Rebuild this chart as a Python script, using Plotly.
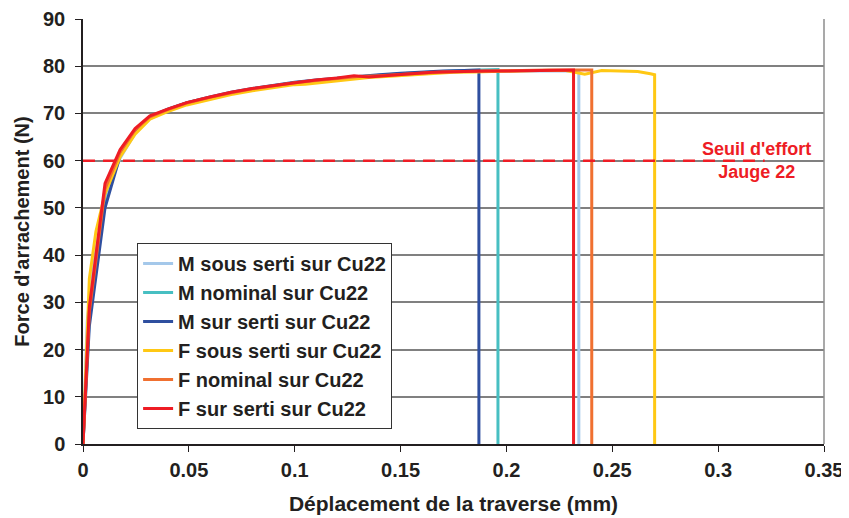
import plotly.graph_objects as go

# ---- data ----
names = ["M sous serti sur Cu22", "M nominal sur Cu22", "M sur serti sur Cu22",
         "F sous serti sur Cu22", "F nominal sur Cu22", "F sur serti sur Cu22"]
colors = ["#a4c8ea", "#47bfc2", "#2f4f9f", "#ffc814", "#f07030", "#ee1c24"]

m_sous_x = [0, 0.002, 0.005, 0.0104, 0.0175, 0.0246, 0.0316, 0.04, 0.049, 0.06, 0.07, 0.08, 0.09, 0.1, 0.11, 0.12, 0.13, 0.14, 0.15, 0.16, 0.17, 0.18, 0.19, 0.2, 0.21, 0.22, 0.2342, 0.2342]
m_sous_y = [0, 26, 38, 52, 60.5, 65.8, 68.9, 70.6, 72.0, 73.3, 74.3, 75.1, 75.8, 76.4, 76.9, 77.3, 77.7, 78.0, 78.2, 78.5, 78.7, 78.9, 79.0, 79.0, 79.0, 79.0, 79.0, 0]

m_nom_x = [0, 0.003, 0.0104, 0.0175, 0.0246, 0.0316, 0.04, 0.049, 0.06, 0.07, 0.08, 0.09, 0.1, 0.11, 0.12, 0.13, 0.14, 0.15, 0.16, 0.17, 0.18, 0.19, 0.196, 0.196]
m_nom_y = [0, 27, 53, 61.5, 66.2, 69.2, 70.8, 72.2, 73.4, 74.4, 75.2, 75.9, 76.5, 77.0, 77.4, 77.8, 78.1, 78.4, 78.7, 78.9, 79.1, 79.2, 79.3, 0]

m_sur_x = [0, 0.003, 0.0104, 0.0175, 0.0246, 0.0316, 0.04, 0.049, 0.06, 0.07, 0.08, 0.09, 0.1, 0.11, 0.12, 0.13, 0.14, 0.15, 0.16, 0.17, 0.18, 0.187, 0.187]
m_sur_y = [0, 25, 50, 61.0, 66.3, 69.3, 70.9, 72.3, 73.5, 74.5, 75.3, 76.0, 76.6, 77.1, 77.5, 77.9, 78.2, 78.5, 78.8, 79.0, 79.1, 79.2, 0]

f_sous_x = [0, 0.003, 0.0061, 0.0104, 0.0175, 0.0246, 0.0316, 0.04, 0.049, 0.06, 0.07, 0.08, 0.09, 0.1, 0.105, 0.115, 0.125, 0.135, 0.145, 0.155, 0.165, 0.175, 0.185, 0.2, 0.215, 0.228, 0.237, 0.245, 0.255, 0.262, 0.268, 0.27, 0.27]
f_sous_y = [0, 35, 45, 53, 60.8, 65.6, 68.8, 70.4, 71.8, 73.0, 74.0, 74.8, 75.5, 76.1, 76.2, 76.7, 77.2, 77.6, 77.9, 78.2, 78.5, 78.7, 78.8, 79.0, 79.1, 79.1, 78.3, 79.1, 79.0, 78.9, 78.4, 78.2, 0]

f_nom_x = [0, 0.003, 0.0104, 0.0175, 0.0246, 0.0316, 0.04, 0.049, 0.06, 0.07, 0.08, 0.09, 0.1, 0.11, 0.12, 0.13, 0.14, 0.15, 0.16, 0.17, 0.18, 0.19, 0.2, 0.21, 0.22, 0.23, 0.2403, 0.2403]
f_nom_y = [0, 28, 54, 61.8, 66.5, 69.3, 70.8, 72.2, 73.4, 74.4, 75.2, 75.9, 76.5, 77.0, 77.4, 77.8, 78.0, 78.3, 78.6, 78.8, 78.9, 79.0, 79.1, 79.1, 79.2, 79.2, 79.2, 0]

f_sur_x = [0, 0.003, 0.0104, 0.0175, 0.0246, 0.0316, 0.04, 0.049, 0.06, 0.07, 0.08, 0.09, 0.1, 0.11, 0.12, 0.128, 0.135, 0.145, 0.155, 0.165, 0.177, 0.19, 0.2, 0.21, 0.22, 0.2317, 0.2317]
f_sur_y = [0, 29, 55.2, 62.3, 66.8, 69.5, 70.9, 72.3, 73.5, 74.5, 75.3, 75.9, 76.6, 77.1, 77.5, 78.0, 77.7, 78.1, 78.4, 78.7, 78.9, 79.0, 79.0, 79.1, 79.2, 79.2, 0]

series_x = [m_sous_x, m_nom_x, m_sur_x, f_sous_x, f_nom_x, f_sur_x]
series_y = [m_sous_y, m_nom_y, m_sur_y, f_sous_y, f_nom_y, f_sur_y]

threshold = 60
threshold_x = [0, 0.322]
threshold_label = "Seuil d'effort<br>Jauge 22"
x_ticks = [0, 0.05, 0.1, 0.15, 0.2, 0.25, 0.3, 0.35]
y_ticks = [0, 10, 20, 30, 40, 50, 60, 70, 80, 90]

FONT = "Liberation Sans, Arial, sans-serif"
TXT = "#231f20"

fig = go.Figure()
for i, (n, c, xs, ys) in enumerate(zip(names, colors, series_x, series_y)):
    fig.add_trace(go.Scatter(x=xs, y=ys, mode="lines", name=n, legendgroup=f"g{i}",
                             line=dict(color=c, width=3)))

fig.add_trace(go.Scatter(x=threshold_x, y=[threshold, threshold], mode="lines", showlegend=False,
                         line=dict(color="#ee1c24", width=2.5, dash="12px,8px")))

fig.add_annotation(x=0.318, y=threshold, text=threshold_label, showarrow=False,
                   xanchor="center", yanchor="middle",
                   font=dict(family=FONT, size=18, color="#ee1c24", weight="bold"))

# right border of plot area
fig.add_shape(type="line", xref="paper", yref="paper", x0=1, x1=1, y0=0, y1=1,
              line=dict(color="#8c8c8c", width=1.5))

# the page body adds an 8px offset; size the figure to fit the window
fig.update_layout(
    width=841, height=510,
    margin=dict(l=75, r=25, t=11, b=74),
    paper_bgcolor="white", plot_bgcolor="white",
    font=dict(family=FONT, size=20, color=TXT, weight="bold"),
    legend=dict(x=0.073, y=0.473, xanchor="left", yanchor="top",
                bgcolor="white", bordercolor="#333333", borderwidth=1,
                font=dict(family=FONT, size=20, color=TXT, weight="bold"),
                traceorder="grouped", tracegroupgap=0, itemwidth=30),
    xaxis=dict(range=[0, 0.35], tickvals=x_ticks, ticktext=[f"{v:g}" for v in x_ticks],
               automargin=False,
               showgrid=False, zeroline=False,
               showline=True, linecolor=TXT, linewidth=1.5,
               ticks="outside", ticklen=6, tickcolor=TXT, tickwidth=1,
               ticklabelstandoff=1,
               tickfont=dict(family=FONT, size=20, color=TXT, weight="bold"),
               title=dict(text="Déplacement de la traverse (mm)", standoff=17,
                          font=dict(family=FONT, size=21, color=TXT, weight="bold"))),
    yaxis=dict(range=[0, 90], tickvals=y_ticks,
               automargin=False,
               showgrid=True, gridcolor="#808080", gridwidth=1.5, zeroline=False,
               showline=True, linecolor=TXT, linewidth=1.5,
               ticks="outside", ticklen=6, tickcolor=TXT, tickwidth=1,
               ticklabelstandoff=6,
               tickfont=dict(family=FONT, size=20, color=TXT, weight="bold"),
               title=dict(text="Force d'arrachement (N)", standoff=8,
                          font=dict(family=FONT, size=20, color=TXT, weight="bold"))),
)

fig.write_html("out.html")
